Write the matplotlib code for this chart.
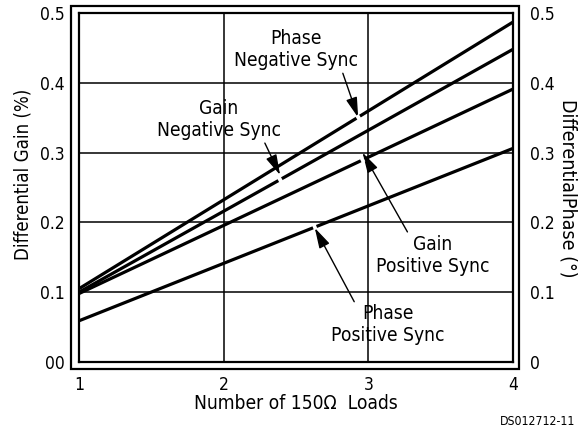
import matplotlib.pyplot as plt
from matplotlib.patches import Rectangle
import numpy as np

plt.rcParams['font.family'] = ['DejaVu Sans']
plt.rcParams['font.stretch'] = 'condensed'

# dati
loads = [1, 4]
phase_neg = [0.105, 0.487]
gain_neg = [0.100, 0.448]
gain_pos = [0.098, 0.391]
phase_pos = [0.059, 0.306]

x_ticks = [1, 2, 3, 4]
y_ticks = [0, 0.1, 0.2, 0.3, 0.4, 0.5]
left_labels = ['00', '0.1', '0.2', '0.3', '0.4', '0.5']
right_labels = ['0', '0.1', '0.2', '0.3', '0.4', '0.5']

fs = 12.5   # etichette tacche
fa = 13.8   # testi delle frecce

fig = plt.figure(figsize=(5.86, 4.33), dpi=100)
ax = fig.add_axes([0.1348, 0.1640, 0.7406, 0.806])

for s in (phase_neg, gain_neg, gain_pos, phase_pos):
    ax.plot(loads, s, color='black', lw=2.3, solid_capstyle='butt', zorder=3)

# piccoli tagli bianchi dove arrivano le frecce
gaps = [(phase_neg, 2.93), (gain_neg, 2.39), (gain_pos, 2.96), (phase_pos, 2.63)]
for s, gx in gaps:
    xs = [gx - 0.012, gx + 0.012]
    ax.plot(xs, np.interp(xs, loads, s), color='white', lw=3.5, zorder=4,
            solid_capstyle='butt')

ax.set_xlim(1, 4)
ax.set_ylim(0, 0.5)
ax.set_xticks(x_ticks)
ax.set_yticks(y_ticks)
ax.set_yticklabels(left_labels)
ax.grid(True, color='black', lw=1.1)
ax.tick_params(length=0, labelsize=fs)
ax.tick_params(axis='y', pad=10)
ax.tick_params(axis='x', pad=10)
for sp in ax.spines.values():
    sp.set_linewidth(1.6)

ax2 = ax.twinx()
ax2.set_ylim(0, 0.5)
ax2.set_yticks(y_ticks)
ax2.set_yticklabels(right_labels)
ax2.tick_params(length=0, labelsize=fs, pad=12)
for sp in ax2.spines.values():
    sp.set_visible(False)

ax.set_xlabel('Number of 150Ω  Loads', fontsize=fa, labelpad=0)
fig.text(23 / 586, 1 - 174 / 433, 'Differential Gain (%)', fontsize=13.4,
         rotation=90, ha='center', va='center')
fig.text(568 / 586, 1 - 188 / 433, 'DifferentialPhase (°)', fontsize=14,
         rotation=270, ha='center', va='center')

# cornice esterna
fig.patches.append(Rectangle((0.1212, 0.1478), 0.7645, 0.8383, transform=fig.transFigure,
                             fill=False, lw=1.6, edgecolor='black'))

arrow = dict(arrowstyle='-|>,head_length=0.9,head_width=0.25', color='black', lw=1,
             shrinkA=0, shrinkB=0)
ax.annotate('Phase\nNegative Sync', xy=(2.93, 0.350), xytext=(2.50, 0.447),
            ha='center', va='center', fontsize=fa, linespacing=1.2,
            arrowprops=dict(arrow, relpos=(0.87, 0.0)))
ax.annotate('Gain\nNegative Sync', xy=(2.39, 0.268), xytext=(1.967, 0.347),
            ha='center', va='center', fontsize=fa, linespacing=1.2,
            arrowprops=dict(arrow, relpos=(0.86, 0.0)))
ax.annotate('Gain\nPositive Sync', xy=(2.96, 0.300), xytext=(3.446, 0.153),
            ha='center', va='center', fontsize=fa, linespacing=1.2,
            arrowprops=dict(arrow, relpos=(0.29, 1.0)))
ax.annotate('Phase\nPositive Sync', xy=(2.63, 0.192), xytext=(3.135, 0.053),
            ha='center', va='center', fontsize=fa, linespacing=1.2,
            arrowprops=dict(arrow, relpos=(0.24, 0.88)))

fig.text(0.981, 0.012, 'DS012712-11', ha='right', va='bottom', fontsize=8.8)

fig.savefig('out.png', dpi=100)
